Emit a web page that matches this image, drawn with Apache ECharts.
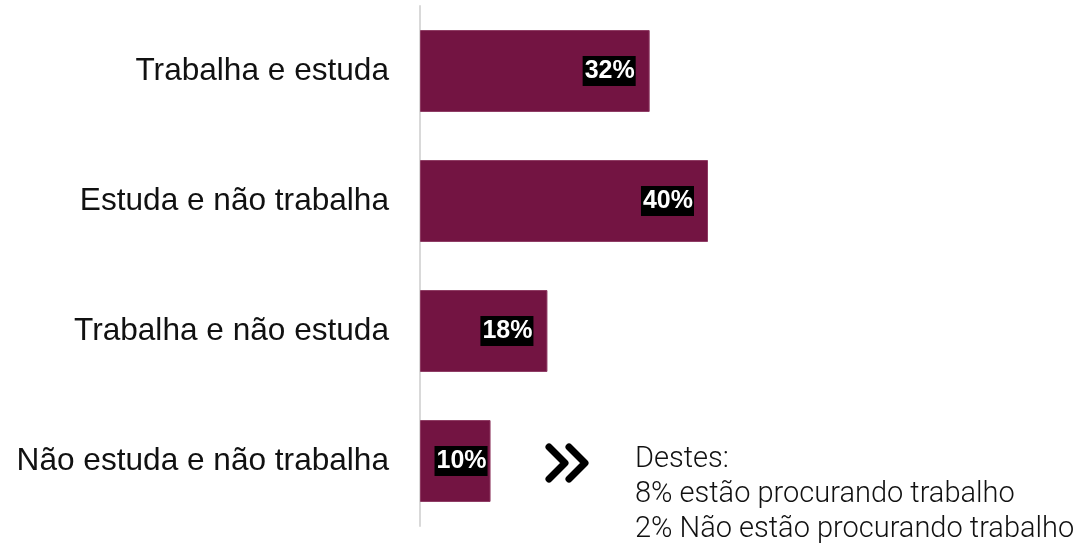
<!DOCTYPE html>
<html>
<head>
<meta charset="utf-8">
<script src="https://cdn.jsdelivr.net/npm/echarts@6/dist/echarts.min.js"></script>
<style>
  html, body { margin: 0; padding: 0; background: #fff; }
  #chart { width: 1079px; height: 548px; }
</style>
</head>
<body>
<div id="chart"></div>
<script>
// categories and values (shares, %)
const categories = ['Trabalha e estuda', 'Estuda e não trabalha', 'Trabalha e não estuda', 'Não estuda e não trabalha'];
const shares = [31.9, 40.0, 17.7, 9.8];
const labelDistances = [14, 14, 14, 3];
const noteLines = ['Destes:', '8% estão procurando trabalho', '2% Não estão procurando trabalho'];

const chart = echarts.init(document.getElementById('chart'));

const barData = shares.map((v, i) => ({
    value: v,
    label: { distance: labelDistances[i] }
}));

const option = {
    animation: false,
    grid: { left: 420, right: 299, top: 6, bottom: 22 },
    xAxis: {
        type: 'value',
        min: 0,
        max: 50,
        show: false
    },
    yAxis: {
        type: 'category',
        inverse: true,
        data: categories,
        axisLine: { show: true, lineStyle: { color: '#d9d9d9', width: 2 } },
        axisTick: { show: false },
        axisLabel: {
            margin: 31,
            color: '#111',
            fontFamily: 'Liberation Sans, Arial, sans-serif',
            fontSize: 31.6
        }
    },
    series: [
        {
            type: 'bar',
            data: barData,
            barCategoryGap: '37%',
            itemStyle: { color: '#731442', borderColor: '#8e3a62', borderWidth: 1 },
            label: {
                show: true,
                position: 'insideRight',
                formatter: (p) => Math.round(p.value) + '%',
                color: '#fff',
                backgroundColor: '#000',
                fontFamily: 'Liberation Sans, Arial, sans-serif',
                fontWeight: 'bold',
                fontSize: 25,
                lineHeight: 26,
                padding: [2, 1, 2, 2]
            }
        }
    ],
    graphic: [
        {
            type: 'polyline',
            shape: { points: [[549, 447], [565, 463], [549, 479]] },
            style: { stroke: '#000', lineWidth: 7, fill: null, lineCap: 'round', lineJoin: 'round' }
        },
        {
            type: 'polyline',
            shape: { points: [[569, 447], [585, 463], [569, 479]] },
            style: { stroke: '#000', lineWidth: 7, fill: null, lineCap: 'round', lineJoin: 'round' }
        },
        {
            type: 'text',
            left: 635,
            top: 442,
            style: {
                text: noteLines.join('\n'),
                fill: '#111',
                font: '300 29px Roboto, sans-serif',
                lineHeight: 35
            }
        }
    ]
};

chart.setOption(option);

window.addEventListener('resize', () => {
    chart.resize();
});
</script>
</body>
</html>
